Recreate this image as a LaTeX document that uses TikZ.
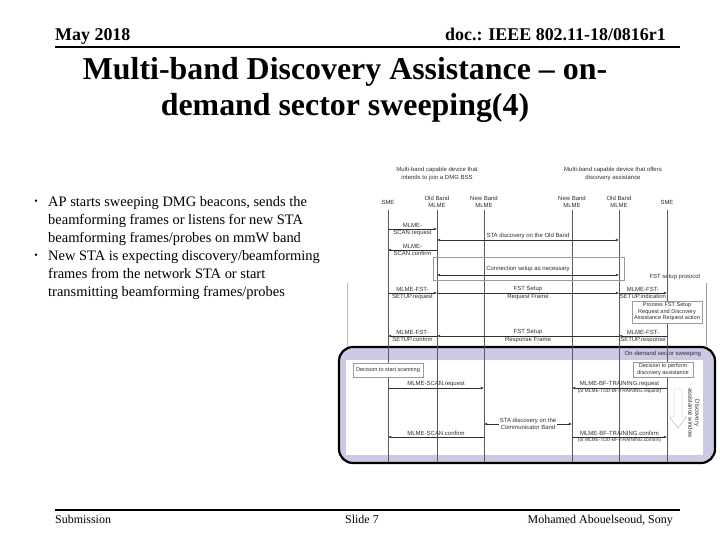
\documentclass[tikz,border=0pt]{standalone}
\usepackage{fontspec}
\setmainfont{Liberation Serif}
\setsansfont{Liberation Sans}
\usetikzlibrary{arrows.meta}
\definecolor{cLine}{HTML}{5A5A5A}
\definecolor{cText}{HTML}{2E2E2E}
\definecolor{cBand}{HTML}{CACAE4}
\definecolor{cFrame}{HTML}{9A9A9A}
\tikzset{
  lifeline/.style={draw=cLine, line width=0.5pt},
  msg/.style={-{Latex[length=3.2pt,width=2.6pt]}, draw=cText, line width=0.5pt},
  dmsg/.style={{Latex[length=3.2pt,width=2.6pt]}-{Latex[length=3.2pt,width=2.6pt]}, draw=cText, line width=0.5pt},
  lbl/.style={font=\sffamily\fontsize{6}{6.8}\selectfont, text=cText, inner sep=0.8pt, align=center},
  sublbl/.style={font=\sffamily\fontsize{4.8}{5.4}\selectfont, text=cText, inner sep=1pt},
  notebox/.style={draw=cFrame, fill=white, line width=0.4pt, inner sep=1pt,
    font=\sffamily\fontsize{5.6}{6.6}\selectfont, text=cText, align=center},
  slidetext/.style={font=\fontsize{14.5}{18}\selectfont, inner sep=0pt, align=left, anchor=north west},
}

\begin{document}
\begin{tikzpicture}[x=1bp, y=-1bp]
  \useasboundingbox (0,0) rectangle (720,540);

  % Header and title
  \node[anchor=base west, inner sep=0pt, font=\fontsize{18}{20}\selectfont\bfseries] (date) at (55,41) {May 2018};
  \node[anchor=base east, inner sep=0pt, font=\fontsize{18}{20}\selectfont\bfseries] (docno) at (666,41) {doc.: IEEE 802.11-18/0816r1};
  \draw[line width=2pt] (date.base west |- 0,47) -- (680,47);
  \node[align=center, inner sep=0pt, font=\fontsize{32}{37}\selectfont\bfseries] (title) at (345,90)
    {Multi-band Discovery Assistance -- on-\\demand sector sweeping(4)};

  % Bullets
  \node[font=\fontsize{10}{10}\selectfont] (dotA) at (36,202) {•};
  \node[font=\fontsize{10}{10}\selectfont] (dotB) at (36,256) {•};
  \node[slidetext] (bulA) at (48,196.5) {AP starts sweeping DMG beacons, sends the\\beamforming frames or listens for new STA\\beamforming frames/probes on mmW band};
  \node[slidetext] (bulB) at (48,250.5) {New STA is expecting discovery/beamforming\\frames from the network STA or start\\transmitting beamforming frames/probes};

  % Footer
  \draw[line width=2pt] (55,510) -- (680,510);
  \node[anchor=base west, inner sep=0pt, font=\fontsize{12}{14}\selectfont] (sub) at (55,523) {Submission};
  \node[anchor=base west, inner sep=0pt, font=\fontsize{12}{14}\selectfont] (slide) at (345,523) {Slide 7};
  \node[anchor=base east, inner sep=0pt, font=\fontsize{12}{14}\selectfont] (auth) at (673,523) {Mohamed Abouelseoud, Sony};

  % On-demand sector sweeping frame
  \draw[line width=2.2pt, fill=cBand, rounded corners=14pt] (339,347) rectangle (715,463);
  \fill[white] (346,360) rectangle (703,455);
  \node[lbl, anchor=east] (ondemand) at (702,354) {On-demand sector sweeping};

  % FST setup protocol frame (sides only show)
  \draw[cFrame!70, line width=0.4pt] (347,283) -- (347,346);
  \draw[cFrame, line width=0.4pt] (706,283) -- (706,346);
  \node[lbl, anchor=east] (fstproto) at (701,277) {FST setup protocol};

  % Device groups and lifeline heads
  \node[lbl, font=\sffamily\fontsize{6}{8}\selectfont] (devA) at (437,174) {Multi-band capable device that\\intends to join a DMG BSS};
  \node[lbl, font=\sffamily\fontsize{6}{8}\selectfont] (devB) at (613,174) {Multi-band capable device that offers\\discovery assistance};
  \node[lbl] (smeA) at (388,202) {SME};
  \node[lbl] (obA) at (437,201.5) {Old Band\\MLME};
  \node[lbl] (nbA) at (484,201.5) {New Band\\MLME};
  \node[lbl] (nbB) at (572,201.5) {New Band\\MLME};
  \node[lbl] (obB) at (619,201.5) {Old Band\\MLME};
  \node[lbl] (smeB) at (667,202) {SME};
  \foreach \n in {smeA,obA,nbA,nbB,obB,smeB}
    \draw[lifeline] (\n |- 0,210) -- (\n |- 0,462);

  % Boxes over the lifelines
  \draw[cFrame, line width=0.4pt] (433,257) rectangle (624,280);
  \node[notebox, minimum width=70bp, minimum height=22bp] (process) at (667,312)
    {Process FST Setup\\Request and Discovery\\Assistance Request action};
  \node[notebox, minimum width=70bp, minimum height=14bp] (decA) at (388,370) {Decision to start scanning};
  \node[notebox, minimum width=60bp, minimum height=15bp] (decB) at (663,369.5) {Decision to perform\\discovery assistance};

  % Discovery over the old band
  \draw[msg] (smeA |- 0,229) -- node[lbl, above] {MLME-} node[lbl, below] {SCAN.request} (obA |- 0,229);
  \draw[dmsg] (obA |- 0,240) -- node[lbl, above] {STA discovery on the Old Band} (obB |- 0,240);
  \draw[msg] (obA |- 0,250) -- node[lbl, above] {MLME-} node[lbl, below] {SCAN.confirm} (smeA |- 0,250);
  \draw[dmsg] (obA |- 0,275) -- node[lbl, above=2pt] {Connection setup as necessary} (obB |- 0,275);

  % FST setup
  \draw[msg] (smeA |- 0,293) -- node[lbl, above] {MLME-FST-} node[lbl, below] {SETUP.request} (obA |- 0,293);
  \draw[msg] (obA |- 0,293) -- node[lbl, above] {FST Setup} node[lbl, below] {Request Frame} (obB |- 0,293);
  \draw[msg] (obB |- 0,293) -- node[lbl, above] {MLME-FST-} node[lbl, below] {SETUP.indication} (smeB |- 0,293);
  \draw[msg] (smeB |- 0,336) -- node[lbl, above] {MLME-FST-} node[lbl, below] {SETUP.response} (obB |- 0,336);
  \draw[msg] (obB |- 0,336) -- node[lbl, above] {FST Setup} node[lbl, below] {Response Frame} (obA |- 0,336);
  \draw[msg] (obA |- 0,336) -- node[lbl, above] {MLME-FST-} node[lbl, below] {SETUP.confirm} (smeA |- 0,336);

  % On-demand sector sweeping
  \draw[msg] (smeA |- 0,388) -- node[lbl, above] {MLME-SCAN.request} (nbA |- 0,388);
  \draw[msg] (smeB |- 0,388) -- node[lbl, above] {MLME-BF-TRAINING.request}
    node[sublbl, below] {(or MLME-TDD-BF-TRAINING.request)} (nbB |- 0,388);
  \draw[dmsg] (nbA |- 0,424) -- node[lbl, fill=white] {STA discovery on the\\Communicator Band} (nbB |- 0,424);
  \draw[msg] (nbA |- 0,437) -- node[lbl, above] {MLME-SCAN.confirm} (smeA |- 0,437);
  \draw[msg] (nbB |- 0,437) -- node[lbl, above] {MLME-BF-TRAINING.confirm}
    node[sublbl, below] {(or MLME-TDD-BF-TRAINING.confirm)} (smeB |- 0,437);

  % Discovery assistance window
  \draw[cFrame!80, fill=white, line width=0.4pt] (674,389) -- (682,389) -- (682,417) -- (686.5,417)
    -- (678,428) -- (669.5,417) -- (674,417) -- cycle;
  \node[lbl, rotate=-90] (window) at (694,413) {Discovery\\assistance window};
\end{tikzpicture}
\end{document}
